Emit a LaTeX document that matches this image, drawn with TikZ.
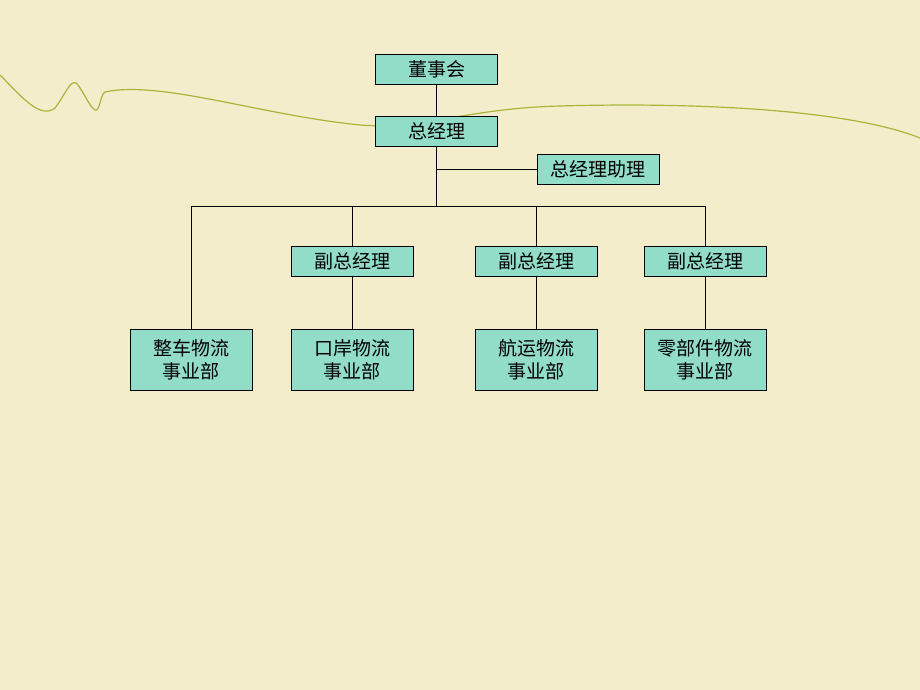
\documentclass[tikz,border=0pt]{standalone}
\usepackage{fontspec}
\newfontfamily\cjk{Noto Sans CJK SC}
\definecolor{bg}{HTML}{F3EDCB}
\definecolor{boxc}{HTML}{92DDC8}
\definecolor{curve}{HTML}{A9B53A}
\begin{document}
\begin{tikzpicture}[x=1pt,y=-1pt,
  box/.style={draw=black,fill=boxc,minimum width=122pt,minimum height=30pt,inner sep=0pt,font=\cjk\fontsize{19}{23}\selectfont,align=center},
  tall/.style={box,minimum height=61pt},
  conn/.style={draw=black,line width=0.6pt}]
\fill[bg] (0,0) rectangle (920,690);
\useasboundingbox (0,0) rectangle (920,690);
\draw[curve,line width=1.2pt] (0,75) .. controls (20,95) and (40,120) .. (55,108)
  .. controls (65,95) and (70,80) .. (76,83) .. controls (82,88) and (88,105) .. (95,110)
  .. controls (100,112) and (100,95) .. (105,92) .. controls (160,80) and (260,115) .. (360,125)
  .. controls (420,130) and (470,108) .. (560,106) .. controls (700,102) and (850,110) .. (920,138);
\node[box] (d) at (436.5,69) {董事会};
\node[box] (g) at (436.5,131) {总经理};
\node[box] (z) at (598,169) {总经理助理};
\coordinate (j) at (436.5,206);
\coordinate (ja) at (436.5,169);
\coordinate (l) at (191,206);
\coordinate (m1) at (352,206);
\coordinate (m2) at (536,206);
\coordinate (r) at (705,206);
\node[box] (f1) at (352,261) {副总经理};
\node[box] (f2) at (536,261) {副总经理};
\node[box] (f3) at (705,261) {副总经理};
\node[tall] (b0) at (191,359.5) {整车物流\\事业部};
\node[tall] (b1) at (352,359.5) {口岸物流\\事业部};
\node[tall] (b2) at (536,359.5) {航运物流\\事业部};
\node[tall] (b3) at (705,359.5) {零部件物流\\事业部};
\draw[conn] (d) -- (g);
\draw[conn] (g) -- (j);
\draw[conn] (ja) -- (z);
\draw[conn] (l) -- (r);
\draw[conn] (l) -- (b0);
\draw[conn] (m1) -- (f1); \draw[conn] (f1) -- (b1);
\draw[conn] (m2) -- (f2); \draw[conn] (f2) -- (b2);
\draw[conn] (r) -- (f3); \draw[conn] (f3) -- (b3);
\end{tikzpicture}
\end{document}
